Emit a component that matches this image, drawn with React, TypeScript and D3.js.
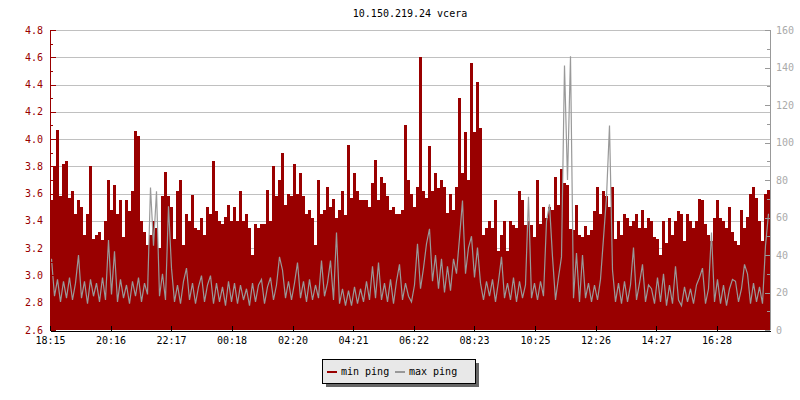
import * as d3 from "d3";
import React, {useEffect, useRef} from "react";

const title = "10.150.219.24 vcera";

// x axis labels and their offsets in minutes after 18:15
const timeLabels = ["18:15", "20:16", "22:17", "00:18", "02:20", "04:21", "06:22", "08:23", "10:25", "12:26", "14:27", "16:28"];
const timeOffsets = [0, 121, 242, 363, 485, 606, 727, 848, 970, 1091, 1212, 1333];
const spanMinutes = 1440;
const stepMinutes = 6;

// min ping (ms), left axis
const minPing = [
  3.55, 3.80, 4.07, 3.58, 3.82, 3.84, 3.57, 3.62, 3.45, 3.55,
  3.50, 3.30, 3.45, 3.80, 3.27, 3.30, 3.32, 3.26, 3.40, 3.70,
  3.48, 3.66, 3.45, 3.55, 3.28, 3.55, 3.47, 3.62, 4.06, 4.02,
  3.40, 3.32, 3.22, 3.30, 3.40, 3.35, 3.20, 3.58, 3.76, 3.58,
  3.50, 3.27, 3.62, 3.70, 3.22, 3.45, 3.40, 3.59, 3.35, 3.33,
  3.42, 3.30, 3.50, 3.45, 3.84, 3.47, 3.40, 3.38, 3.43, 3.52,
  3.40, 3.50, 3.40, 3.62, 3.40, 3.45, 3.35, 3.15, 3.38, 3.35,
  3.38, 3.38, 3.63, 3.40, 3.80, 3.58, 3.70, 3.90, 3.52, 3.60,
  3.58, 3.82, 3.60, 3.75, 3.58, 3.45, 3.48, 3.42, 3.22, 3.70,
  3.45, 3.48, 3.65, 3.50, 3.56, 3.42, 3.48, 3.62, 3.44, 3.96,
  3.57, 3.75, 3.62, 3.55, 3.55, 3.55, 3.50, 3.68, 3.85, 3.55,
  3.72, 3.68, 3.58, 3.48, 3.50, 3.45, 3.45, 3.48, 4.10, 3.70,
  3.60, 3.50, 3.65, 4.60, 3.62, 3.57, 3.95, 3.62, 3.75, 3.64,
  3.70, 3.65, 3.46, 3.60, 3.48, 3.65, 4.30, 3.75, 4.05, 3.70,
  4.56, 4.05, 4.42, 4.08, 3.30, 3.35, 3.40, 3.35, 3.55, 3.18,
  3.30, 3.40, 3.18, 3.40, 3.37, 3.35, 3.62, 3.55, 3.37, 3.40,
  3.37, 3.28, 3.70, 3.38, 3.50, 3.42, 3.50, 3.48, 3.72, 3.52,
  3.78, 3.68, 3.66, 3.34, 3.33, 3.52, 3.30, 3.28, 3.36, 3.30,
  3.33, 3.47, 3.65, 3.45, 3.62, 3.58, 3.50, 3.65, 3.27, 3.40,
  3.30, 3.45, 3.42, 3.36, 3.40, 3.45, 3.35, 3.48, 3.35, 3.42,
  3.40, 3.28, 3.27, 3.15, 3.40, 3.24, 3.42, 3.30, 3.40, 3.47,
  3.45, 3.25, 3.45, 3.40, 3.35, 3.40, 3.56, 3.55, 3.38, 3.30,
  3.25, 3.42, 3.55, 3.42, 3.40, 3.35, 3.50, 3.32, 3.25, 3.22,
  3.48, 3.35, 3.43, 3.60, 3.65, 3.57, 3.40, 3.25, 3.60, 3.63,
];

// max ping (ms), right axis
const maxPing = [
  38, 18, 27, 15, 26, 17, 28, 16, 25, 40,
  17, 26, 14, 27, 18, 25, 15, 28, 16, 48,
  19, 42, 15, 27, 17, 24, 14, 26, 18, 28,
  15, 25, 19, 76, 45, 74, 18, 30, 16, 66,
  33, 15, 24, 14, 26, 33, 16, 25, 14, 23,
  29, 15, 24, 29, 14, 25, 15, 23, 13, 26,
  15, 25, 14, 24, 16, 22, 13, 25, 15, 24,
  27, 14, 23, 28, 16, 24, 39, 32, 17, 26,
  16, 25, 36, 17, 26, 15, 27, 16, 24, 17,
  37, 18, 25, 37, 16, 52, 14, 22, 13, 21,
  13, 23, 14, 22, 15, 26, 16, 34, 17, 36,
  16, 25, 15, 27, 14, 26, 35, 16, 25, 18,
  15, 24, 46, 22, 33, 46, 54, 26, 40, 22,
  38, 20, 34, 21, 38, 30, 49, 69, 30, 44,
  50, 28, 44, 25, 16, 26, 18, 27, 15, 26,
  39, 17, 25, 16, 28, 15, 26, 17, 24, 71,
  17, 25, 16, 26, 18, 58, 67, 39, 16, 28,
  39, 141, 80, 146, 17, 41, 15, 40, 17, 25,
  15, 24, 16, 27, 49, 71, 109, 32, 15, 25,
  14, 26, 15, 24, 44, 16, 25, 35, 15, 24,
  22, 14, 28, 15, 30, 13, 24, 14, 34, 16,
  13, 23, 15, 22, 14, 24, 28, 33, 14, 22,
  52, 15, 27, 14, 24, 13, 22, 27, 26, 15,
  22, 35, 30, 14, 25, 15, 23, 14, 45, 62,
];

const legendItems = ["min ping", "max ping"];

const RED = "#990000";
const GRAY = "#999999";
const FONT = "'DejaVu Sans Mono', monospace";

const PingChart: React.FC = () => {
  const ref = useRef<SVGSVGElement | null>(null);

  useEffect(() => {
    const svg = d3.select(ref.current);
    svg.selectAll('*').remove();

    const left = 50, right = 770, top = 30, bottom = 330;

    const xScale = d3.scaleLinear().domain([0, spanMinutes]).range([left, right]);
    const yLeft = d3.scaleLinear().domain([2.6, 4.8]).range([bottom, top]);
    const yRight = d3.scaleLinear().domain([0, 160]).range([bottom, top]);

    const px = (v: number) => Math.round(v) + 0.5;

    // grid
    svg.append('g')
      .selectAll('line')
      .data(yLeft.ticks(11).filter(t => t > 2.61))
      .enter()
      .append('line')
      .attr('x1', left).attr('x2', right)
      .attr('y1', d => px(yLeft(d))).attr('y2', d => px(yLeft(d)))
      .attr('stroke', '#c0c0c0')
      .attr('shape-rendering', 'crispEdges');

    const withEnd = (arr: number[]): [number, number][] => {
      const pts = arr.map((v, i) => [i * stepMinutes, v] as [number, number]);
      pts.push([spanMinutes, arr[arr.length - 1]]);
      return pts;
    };

    const area = d3.area<[number, number]>()
      .x(d => xScale(d[0]))
      .y0(bottom)
      .y1(d => yLeft(d[1]))
      .curve(d3.curveStepAfter);

    svg.append('path')
      .datum(withEnd(minPing))
      .attr('d', area)
      .attr('fill', RED)
      .attr('shape-rendering', 'crispEdges');

    const line = d3.line<[number, number]>()
      .x(d => xScale(d[0]) + 1.5)
      .y(d => yRight(d[1]));

    svg.append('path')
      .datum(maxPing.map((v, i) => [i * stepMinutes, v] as [number, number]))
      .attr('d', line)
      .attr('fill', 'none')
      .attr('stroke', GRAY)
      .attr('stroke-width', 1.2);

    // left axis (ticks inward)
    const la = svg.append('g').attr('shape-rendering', 'crispEdges');
    la.append('line')
      .attr('x1', px(left)).attr('x2', px(left))
      .attr('y1', top).attr('y2', bottom)
      .attr('stroke', RED);
    la.selectAll('.minor')
      .data(yLeft.ticks(22))
      .enter()
      .append('line')
      .attr('x1', left).attr('x2', left + 3)
      .attr('y1', d => px(yLeft(d))).attr('y2', d => px(yLeft(d)))
      .attr('stroke', RED);
    la.selectAll('.major')
      .data(yLeft.ticks(11))
      .enter()
      .append('line')
      .attr('x1', left).attr('x2', left + 6)
      .attr('y1', d => px(yLeft(d))).attr('y2', d => px(yLeft(d)))
      .attr('stroke', RED);
    la.selectAll('text')
      .data(yLeft.ticks(11))
      .enter()
      .append('text')
      .attr('x', left - 7)
      .attr('y', d => yLeft(d))
      .attr('dy', '0.35em')
      .attr('text-anchor', 'end')
      .attr('fill', RED)
      .style('font-family', FONT)
      .style('font-size', '10px')
      .text(d => d3.format('.1f')(d));

    // right axis
    const ra = svg.append('g').attr('shape-rendering', 'crispEdges');
    ra.append('line')
      .attr('x1', px(right)).attr('x2', px(right))
      .attr('y1', top).attr('y2', bottom)
      .attr('stroke', GRAY);
    ra.selectAll('.minor')
      .data(yRight.ticks(16))
      .enter()
      .append('line')
      .attr('x1', right - 3).attr('x2', right)
      .attr('y1', d => px(yRight(d))).attr('y2', d => px(yRight(d)))
      .attr('stroke', GRAY);
    ra.selectAll('.major')
      .data(yRight.ticks(8))
      .enter()
      .append('line')
      .attr('x1', right - 5).attr('x2', right)
      .attr('y1', d => px(yRight(d))).attr('y2', d => px(yRight(d)))
      .attr('stroke', GRAY);
    ra.selectAll('text')
      .data(yRight.ticks(8))
      .enter()
      .append('text')
      .attr('x', right + 6)
      .attr('y', d => yRight(d))
      .attr('dy', '0.35em')
      .attr('fill', '#aaaaaa')
      .style('font-family', FONT)
      .style('font-size', '10px')
      .text(d => String(d));

    // bottom axis
    const xAxis = d3.axisBottom(xScale)
      .tickValues(timeOffsets)
      .tickFormat((_, i) => timeLabels[i])
      .tickSizeInner(-5)
      .tickSizeOuter(0)
      .tickPadding(6);

    const xa = svg.append('g')
      .attr('transform', `translate(0, ${bottom + 0.5})`)
      .call(xAxis);
    xa.attr('font-family', FONT).attr('font-size', 10);
    xa.select('.domain').attr('stroke', '#000').attr('shape-rendering', 'crispEdges');
    xa.selectAll('.tick line').attr('stroke', '#000').attr('shape-rendering', 'crispEdges');
    xa.selectAll('.tick text').attr('fill', '#000');

    // title
    svg.append('text')
      .attr('x', (left + right) / 2)
      .attr('y', 13)
      .attr('dy', '0.35em')
      .attr('text-anchor', 'middle')
      .style('font-family', FONT)
      .style('font-size', '10px')
      .text(title);

    // legend
    const lg = svg.append('g').attr('shape-rendering', 'crispEdges');
    lg.append('rect')
      .attr('x', 326).attr('y', 363).attr('width', 153).attr('height', 24)
      .attr('fill', '#666666');
    lg.append('rect')
      .attr('x', 322.5).attr('y', 359.5).attr('width', 153).attr('height', 24)
      .attr('fill', '#e8e8e8').attr('stroke', '#000');
    const colors = [RED, GRAY];
    const itemX = [327, 395];
    legendItems.forEach((name, i) => {
      lg.append('line')
        .attr('x1', itemX[i]).attr('x2', itemX[i] + 10)
        .attr('y1', 371.5).attr('y2', 371.5)
        .attr('stroke', colors[i]).attr('stroke-width', 2);
      lg.append('text')
        .attr('x', itemX[i] + 14)
        .attr('y', 371.5)
        .attr('dy', '0.35em')
        .style('font-family', FONT)
        .style('font-size', '10px')
        .text(name);
    });
  }, []);

  return <svg ref={ref} width={800} height={400} style={{position: 'absolute', left: 0, top: 0, background: '#fff'}} />;
};

export default function App() {
  return <PingChart />;
}
